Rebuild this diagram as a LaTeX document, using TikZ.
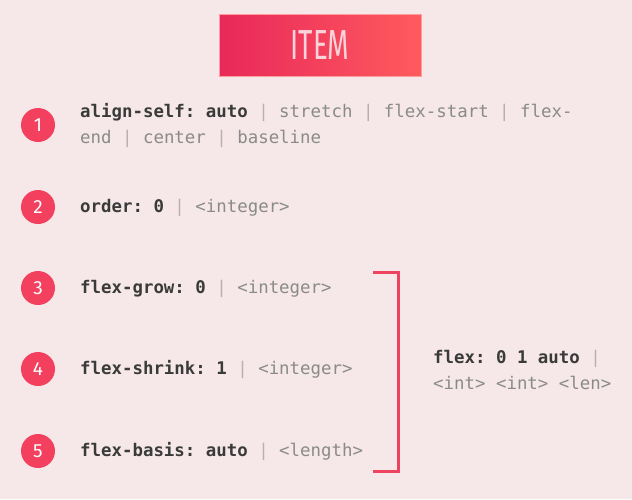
\documentclass[tikz,border=0pt]{standalone}
\usepackage{fontspec}
\setmainfont{Fira Sans}
\setmonofont{DejaVu Sans Mono}
\newfontfamily\titlefont{Fira Sans}[FakeStretch=0.66]
\usepackage{xcolor}
\definecolor{bgpink}{HTML}{F6E8E8}
\definecolor{dotred}{HTML}{F2405E}
\definecolor{keygray}{HTML}{3A3A3A}
\definecolor{valgray}{HTML}{8A8A8A}
\definecolor{sepgray}{HTML}{B8B0B0}
\definecolor{barred}{HTML}{EE4360}
\definecolor{titleleft}{HTML}{E8285A}
\definecolor{titleright}{HTML}{FF5A5E}
\definecolor{titletext}{HTML}{FBD3DA}
\newcommand{\kw}[1]{\textcolor{keygray}{\bfseries #1}}
\newcommand{\sepbar}{\textcolor{sepgray}{|}}

\begin{document}
\begin{tikzpicture}[x=1pt,y=-1pt,
  numdot/.style={circle,fill=dotred,text=white,minimum size=34pt,inner sep=0pt,
    font=\fontsize{19}{19}\selectfont},
  prop/.style={anchor=base west,align=left,inner sep=0pt,text=valgray,
    font=\ttfamily\fontsize{17.4}{26.5}\selectfont}]
  \fill[bgpink] (0,0) rectangle (632,499);
  \useasboundingbox (0,0) rectangle (632,499);

  % title
  \node[minimum width=202pt,minimum height=62pt,left color=titleleft,right color=titleright,
    draw=titleright!60!white,line width=0.6pt,text=titletext,
    font=\titlefont\fontsize{42}{42}\selectfont] (title) at (320,45) {ITEM};

  % numbers
  \node[numdot] (n1) at (38,125) {1};
  \node[numdot] (n2) at (38,207) {2};
  \node[numdot] (n3) at (38,288) {3};
  \node[numdot] (n4) at (38,369) {4};
  \node[numdot] (n5) at (38,451) {5};

  % properties (base = last line)
  \node[prop] (p1) at (80,143.5) {\kw{align-self: auto} \sepbar{} stretch \sepbar{} flex-start \sepbar{} flex-\\end \sepbar{} center \sepbar{} baseline};
  \node[prop] (p2) at (80,212) {\kw{order: 0} \sepbar{} <integer>};
  \node[prop] (p3) at (80,293) {\kw{flex-grow: 0} \sepbar{} <integer>};
  \node[prop] (p4) at (80,374) {\kw{flex-shrink: 1} \sepbar{} <integer>};
  \node[prop] (p5) at (80,456) {\kw{flex-basis: auto} \sepbar{} <length>};

  % shorthand
  \coordinate (btop) at (373,272);
  \coordinate (bbot) at (373,471);
  \draw[barred,line width=3pt] (btop) -- ++(25,0) |- (bbot);
  \node[prop] (flex) at (433,389.5) {\kw{flex: 0 1 auto} \sepbar\\<int> <int> <len>};
\end{tikzpicture}
\end{document}
